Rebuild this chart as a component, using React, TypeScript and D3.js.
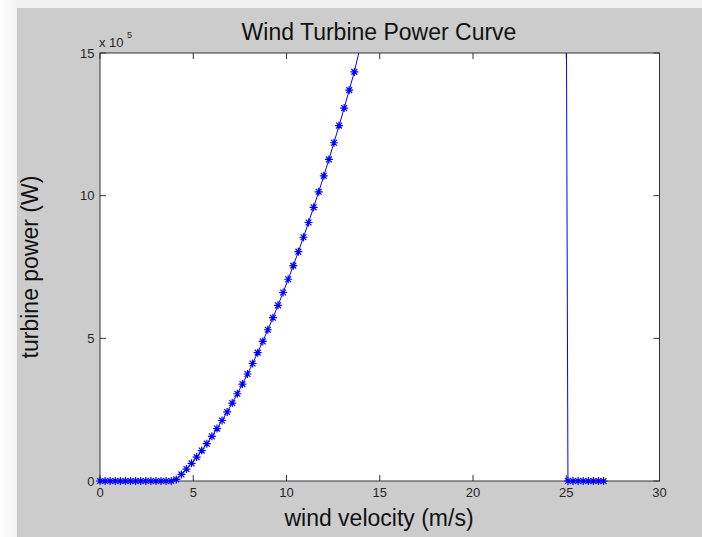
import React from "react";
import * as d3 from "d3";

// wind speed samples (m/s), evenly spaced 0..27, and turbine output (x 10^5 W)
const windSpeed = [
  0, 0.273, 0.545, 0.818, 1.091, 1.364, 1.636, 1.909, 2.182, 2.455, 2.727, 3, 3.273, 3.545, 3.818,
  4.091, 4.364, 4.636, 4.909, 5.182, 5.455, 5.727, 6, 6.273, 6.545, 6.818, 7.091, 7.364, 7.636, 7.909,
  8.182, 8.455, 8.727, 9, 9.273, 9.545, 9.818, 10.091, 10.364, 10.636, 10.909, 11.182, 11.455, 11.727,
  12, 12.273, 12.545, 12.818, 13.091, 13.364, 13.636, 13.909, 14.182, 14.455, 14.727,
  24.818,
  25.091, 25.364, 25.636, 25.909, 26.182, 26.455, 26.727, 27,
];
const turbinePower = [
  0, 0, 0, 0, 0, 0, 0, 0, 0, 0, 0, 0, 0, 0, 0,
  0.055, 0.23, 0.418, 0.62, 0.837, 1.066, 1.309, 1.566, 1.838, 2.121, 2.42, 2.732, 3.058, 3.397, 3.75,
  4.118, 4.499, 4.892, 5.301, 5.723, 6.157, 6.607, 7.07, 7.548, 8.037, 8.542, 9.06, 9.592, 10.136,
  10.696, 11.27, 11.855, 12.456, 13.07, 13.699, 14.338, 15.1, 15.664, 16.347, 17.042,
  52.5,
  0, 0, 0, 0, 0, 0, 0, 0,
];
const xTicks = [0, 5, 10, 15, 20, 25, 30];
const yTicks = [0, 5, 10, 15];

const W = 702;
const H = 537;
const FONT = "'Liberation Sans', Arial, sans-serif";
const BLUE = "#0000ff";

export default function App() {
  const x = d3.scaleLinear().domain([0, 30]).range([100, 659.5]);
  const y = d3.scaleLinear().domain([0, 15]).range([481, 53]);
  const pts: [number, number][] = windSpeed.map((v, i) => [v, turbinePower[i]]);

  const line = d3
    .line<[number, number]>()
    .x((d) => x(d[0]))
    .y((d) => y(d[1]));

  // markers outside the axes are dropped, like the original plot
  const visible = pts.filter((d) => d[1] <= 15);
  const star = "M-4,0H4M0,-4V4M-2.9,-2.9L2.9,2.9M-2.9,2.9L2.9,-2.9";
  const x0 = x(0), x1 = x(30), y0 = y(0), y1 = y(15);
  const tick = 6;

  return (
    <svg width={W} height={H} style={{ position: "absolute", left: 0, top: 0 }}>
      <defs>
        <linearGradient id="edge" x1="0" x2="1" y1="0" y2="0">
          <stop offset="0" stopColor="#ffffff" />
          <stop offset="1" stopColor="#f2f2f2" />
        </linearGradient>
        <clipPath id="plot">
          <rect x={x0} y={y1} width={x1 - x0} height={y0 - y1} />
        </clipPath>
      </defs>
      <rect width={W} height={H} fill="#ffffff" />
      <rect x={17} y={0} width={W - 17} height={8} fill="#f0f0f0" />
      <rect x={0} y={0} width={17} height={H} fill="url(#edge)" />
      <rect x={17} y={8} width={W - 17} height={H - 8} fill="#cccccc" />

      <rect x={x0} y={y1} width={x1 - x0} height={y0 - y1} fill="#ffffff" stroke="#333333" strokeWidth={1} />
      {xTicks.map((t) => (
        <g key={"x" + t}>
          <line x1={x(t)} x2={x(t)} y1={y0} y2={y0 - tick} stroke="#333333" />
          <line x1={x(t)} x2={x(t)} y1={y1} y2={y1 + tick} stroke="#333333" />
          <text x={x(t)} y={497} textAnchor="middle" fontFamily={FONT} fontSize={13} fill="#262626">
            {t}
          </text>
        </g>
      ))}
      {yTicks.map((t) => (
        <g key={"y" + t}>
          <line x1={x0} x2={x0 + tick} y1={y(t)} y2={y(t)} stroke="#333333" />
          <line x1={x1} x2={x1 - tick} y1={y(t)} y2={y(t)} stroke="#333333" />
          <text x={94.5} y={y(t) + 4.5} textAnchor="end" fontFamily={FONT} fontSize={13} fill="#262626">
            {t}
          </text>
        </g>
      ))}
      <text x={99} y={47} fontFamily={FONT} fontSize={13} fill="#262626">
        x 10
      </text>
      <text x={127} y={38} fontFamily={FONT} fontSize={9} fill="#262626">
        5
      </text>

      <path d={line(pts) || ""} fill="none" stroke={BLUE} strokeWidth={1} clipPath="url(#plot)" />
      {visible.map((d, i) => (
        <path
          key={i}
          d={star}
          transform={`translate(${x(d[0])},${y(d[1])})`}
          fill="none"
          stroke={BLUE}
          strokeWidth={1.2}
        />
      ))}

      <text x={379} y={40} textAnchor="middle" fontFamily={FONT} fontSize={23} fill="#111111">
        Wind Turbine Power Curve
      </text>
      <text x={379} y={526} textAnchor="middle" fontFamily={FONT} fontSize={23} fill="#111111">
        wind velocity (m/s)
      </text>
      <text
        transform={`translate(38,${(y0 + y1) / 2}) rotate(-90)`}
        textAnchor="middle"
        fontFamily={FONT}
        fontSize={23}
        fill="#111111"
      >
        turbine power (W)
      </text>
    </svg>
  );
}
